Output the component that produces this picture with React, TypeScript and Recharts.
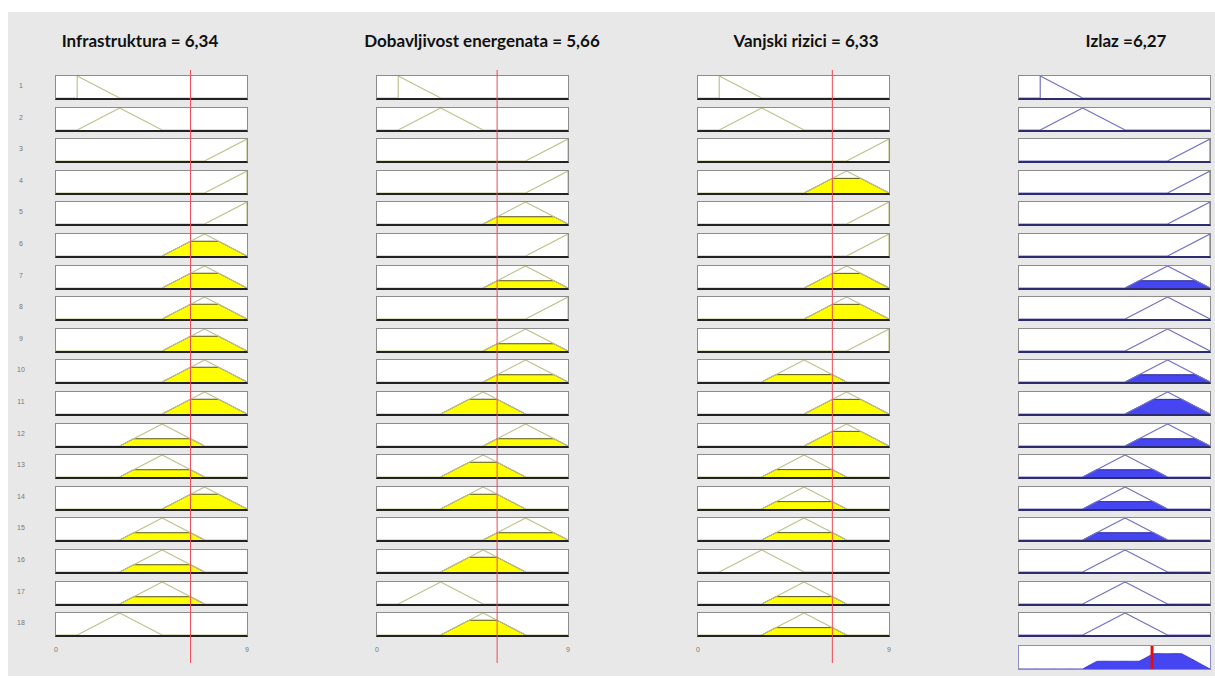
import React from 'react';
import { ComposedChart, Line, Area, XAxis, YAxis, ReferenceLine } from 'recharts';

// membership functions (trimf a, b, c) on the 0..9 universe
const mfParams: Record<string, number[]> = {
  A: [1, 1, 3],
  B: [1, 3, 5],
  C: [7, 9, 9],
  D: [5, 7, 9],
  E: [3, 5, 7],
};

const xDomain = [0, 9];
const xTicks = [0, 9];

const infraRules = ['A', 'B', 'C', 'C', 'C', 'D', 'D', 'D', 'D', 'D', 'D', 'E', 'E', 'D', 'E', 'E', 'E', 'B'];
const dobavRules = ['A', 'B', 'C', 'C', 'D', 'C', 'D', 'C', 'D', 'D', 'E', 'D', 'E', 'E', 'D', 'E', 'B', 'E'];
const vanjskiRules = ['A', 'B', 'C', 'D', 'C', 'C', 'D', 'D', 'C', 'E', 'D', 'D', 'E', 'E', 'E', 'B', 'E', 'E'];
const izlazRules = ['A', 'B', 'C', 'C', 'C', 'C', 'D', 'D', 'D', 'D', 'D', 'D', 'E', 'E', 'E', 'E', 'E', 'E'];

const inputValues = [6.34, 5.66, 6.33];
const outputValue = 6.27;
const titles = ['Infrastruktura = 6,34', 'Dobavljivost energenata = 5,66', 'Vanjski rizici = 6,33', 'Izlaz =6,27'];

const colLeft = [55, 376, 697, 1018];
const titleCenter = [140, 482, 806, 1126];
const rowTop = 75;
const rowPitch = 31.6;
const boxW = 193;
const boxH = 25;

const trimf = (x: number, [a, b, c]: number[]) => {
  const left = b === a ? (x >= a ? 1 : 0) : (x - a) / (b - a);
  const right = c === b ? (x <= c ? 1 : 0) : (c - x) / (c - b);
  return Math.max(Math.min(left, right), 0);
};

const mfLine = ([a, b, c]: number[]) => [
  { x: xDomain[0], y: 0 },
  { x: a, y: 0 },
  { x: b, y: 1 },
  { x: c, y: 0 },
  { x: xDomain[1], y: 0 },
];

const clipped = ([a, b, c]: number[], h: number) => [
  { x: a, y: 0 },
  { x: a + (b - a) * h, y: h },
  { x: c - (c - b) * h, y: h },
  { x: c, y: 0 },
];

const inputRules = [infraRules, dobavRules, vanjskiRules];
const degrees = inputRules.map((rules, i) => rules.map(m => trimf(inputValues[i], mfParams[m])));
const firing = izlazRules.map((_, r) => Math.min(...degrees.map(d => d[r])));

// aggregated output: max of clipped consequents
const aggStep = 0.05;
const aggregate = Array.from({ length: Math.round((xDomain[1] - xDomain[0]) / aggStep) + 1 }, (_, k) => {
  const x = xDomain[0] + k * aggStep;
  const y = Math.max(0, ...izlazRules.map((m, r) => Math.min(firing[r], trimf(x, mfParams[m]))));
  return { x, y };
});

const domainPts = [{ x: xDomain[0], y: 0 }, { x: xDomain[1], y: 0 }];

const inputStyle = { line: '#c2c28e', fill: '#ffff00', edge: '#55551a', bottom: '#222' };
const outputStyle = { line: '#7474c4', fill: '#4545f2', edge: '#2a2a9a', bottom: '#2c2c6e' };

type PanelProps = { mf: string; level: number; left: number; top: number; output?: boolean };

const Panel = ({ mf, level, left, top, output }: PanelProps) => {
  const st = output ? outputStyle : inputStyle;
  const p = mfParams[mf];
  return (
    <div style={{
      position: 'absolute', left, top, width: boxW, height: boxH, boxSizing: 'border-box',
      background: '#fff', border: '1px solid #8c8c8c', borderBottom: `2px solid ${st.bottom}`,
    }}>
      <ComposedChart width={boxW - 2} height={boxH - 3} margin={{ top: 0, right: 0, bottom: 0, left: 0 }}
        style={{ overflow: 'visible' }}>
        <XAxis type="number" dataKey="x" domain={xDomain} hide allowDataOverflow />
        <YAxis type="number" domain={[0, 1]} hide />
        {level > 0 && (
          <Area data={clipped(p, level)} dataKey="y" type="linear" fill={st.fill} fillOpacity={1}
            stroke={st.edge} strokeWidth={1} dot={false} activeDot={false} isAnimationActive={false} />
        )}
        <Line data={mfLine(p)} dataKey="y" type="linear" stroke={st.line} strokeWidth={1.2}
          dot={false} activeDot={false} isAnimationActive={false} />
      </ComposedChart>
    </div>
  );
};

const RedLine = ({ left, value }: { left: number; value: number }) => (
  <div style={{ position: 'absolute', left: left + 1, top: 70, pointerEvents: 'none' }}>
    <ComposedChart width={boxW - 2} height={593} data={domainPts}
      margin={{ top: 0, right: 0, bottom: 0, left: 0 }}>
      <XAxis type="number" dataKey="x" domain={xDomain} hide />
      <YAxis type="number" domain={[0, 1]} hide />
      <Line dataKey="y" stroke="none" dot={false} activeDot={false} isAnimationActive={false} />
      <ReferenceLine x={value} stroke="#ec4a55" strokeWidth={1} />
    </ComposedChart>
  </div>
);

const TickRow = ({ left }: { left: number }) => (
  <div style={{ position: 'absolute', left: left - 9, top: 639 }}>
    <ComposedChart width={boxW + 18} height={16} data={domainPts}
      margin={{ top: 0, right: 10, bottom: 0, left: 10 }}>
      <XAxis type="number" dataKey="x" domain={xDomain} ticks={xTicks} axisLine={false} tickLine={false}
        tick={{ fill: '#777', fontSize: 7, fontFamily: 'Liberation Sans' }} height={16} />
      <YAxis type="number" domain={[0, 1]} hide />
      <Line dataKey="y" stroke="none" dot={false} activeDot={false} isAnimationActive={false} />
    </ComposedChart>
  </div>
);

export default function App() {
  return (
    <div style={{ position: 'relative', width: 1215, height: 679, background: '#fff', overflow: 'hidden' }}>
      <style>{'body{margin:0}'}</style>
      <div style={{ position: 'absolute', left: 8, top: 12, width: 1207, height: 664, background: '#e8e8e8' }} />

      {titles.map((t, i) => (
        <div key={t} style={{
          position: 'absolute', left: titleCenter[i] - 200, width: 400, top: 30, textAlign: 'center',
          fontFamily: 'Lato, "Open Sans", sans-serif', fontWeight: 700, fontSize: 17, color: '#111',
        }}>{t}</div>
      ))}

      {izlazRules.map((_, r) => (
        <div key={`n${r}`} style={{
          position: 'absolute', left: 14, width: 14, textAlign: 'center', top: rowTop + r * rowPitch + 7,
          fontFamily: 'Liberation Sans', fontSize: 7, color: '#777',
        }}>{r + 1}</div>
      ))}

      {inputRules.map((rules, c) => (
        <React.Fragment key={`c${c}`}>
          {rules.map((m, r) => (
            <Panel key={`p${c}-${r}`} mf={m} level={degrees[c][r]} left={colLeft[c]} top={rowTop + r * rowPitch} />
          ))}
          <TickRow left={colLeft[c]} />
          <RedLine left={colLeft[c]} value={inputValues[c]} />
        </React.Fragment>
      ))}

      {izlazRules.map((m, r) => (
        <Panel key={`o${r}`} mf={m} level={firing[r]} left={colLeft[3]} top={rowTop + r * rowPitch} output />
      ))}

      <div style={{
        position: 'absolute', left: colLeft[3], top: 645, width: boxW, height: 25, boxSizing: 'border-box',
        background: '#fff', border: '1px solid #8a8ad0',
      }}>
        <ComposedChart width={boxW - 2} height={23} data={aggregate} margin={{ top: 0, right: 0, bottom: 0, left: 0 }}
          style={{ overflow: 'visible' }}>
          <XAxis type="number" dataKey="x" domain={xDomain} hide />
          <YAxis type="number" domain={[0, 1]} hide />
          <Area dataKey="y" type="linear" fill="#4545f2" fillOpacity={1} stroke="#3a3ab8" strokeWidth={1}
            dot={false} activeDot={false} isAnimationActive={false} />
          <ReferenceLine x={outputValue} stroke="#e01010" strokeWidth={3} />
        </ComposedChart>
      </div>
    </div>
  );
}
